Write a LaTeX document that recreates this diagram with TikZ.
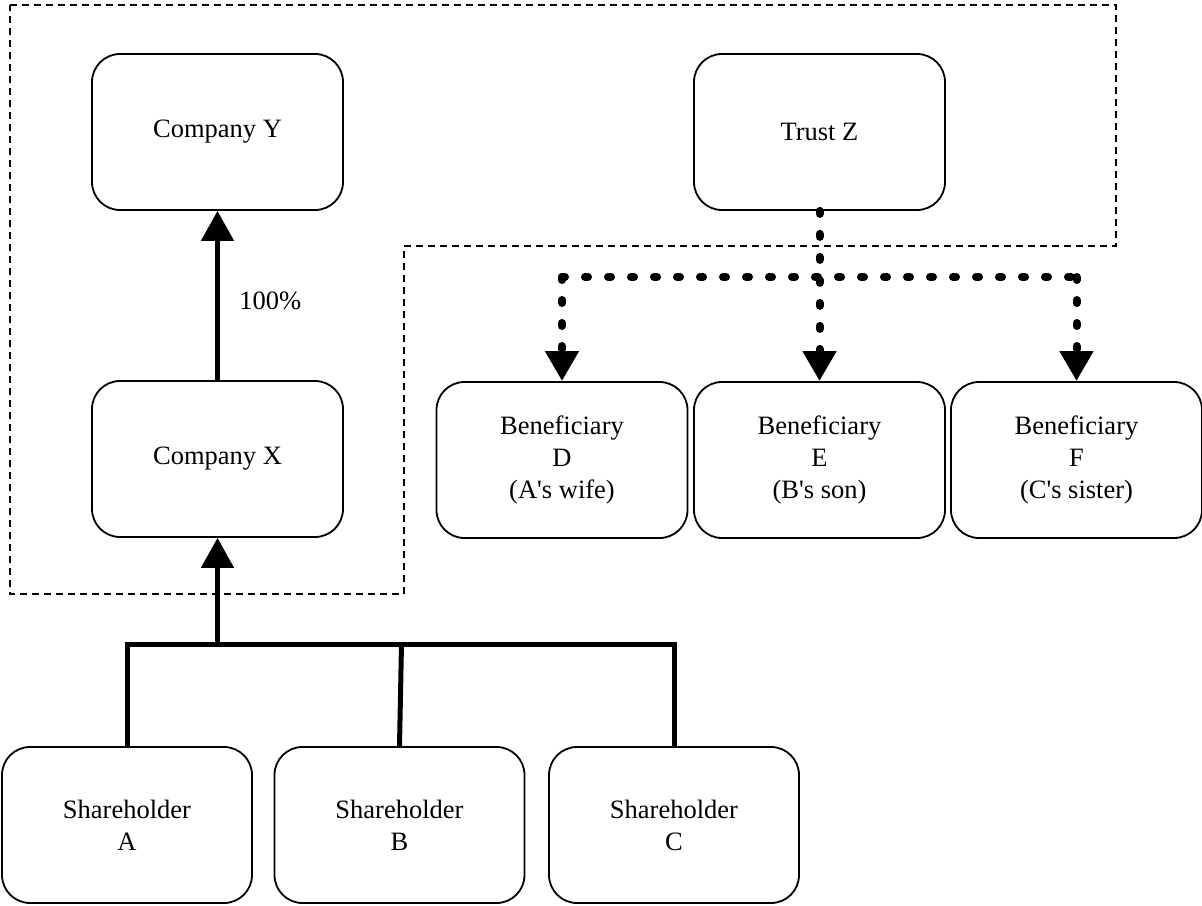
\documentclass[tikz,border=0pt]{standalone}
\usepackage{fontspec}
\setmainfont{Liberation Serif}
\usetikzlibrary{arrows.meta}
\begin{document}
\begin{tikzpicture}[x=1pt,y=-1pt,
  entity/.style={draw, line width=1.8pt, rounded corners=28pt, minimum width=251pt,
    minimum height=156pt, align=center, inner sep=0pt,
    font=\fontsize{26.5}{32}\selectfont},
  bigtip/.style={-{Triangle[width=32pt,length=30pt]}},
  owns/.style={line width=5pt},
  benefit/.style={line width=8pt, line cap=round, dash pattern=on 3pt off 20pt},
  group/.style={line width=1.4pt, dash pattern=on 7pt off 5pt}]
\useasboundingbox (0,0) rectangle (1202,905);

% group boundary
\draw[group] (10,5) -- (1116,5) -- (1116,246) -- (404,246) -- (404,594) -- (10,594) -- cycle;

% entities
\node[entity] (CY) at (217.5,132) {Company Y};
\node[entity] (TZ) at (819.5,132) {Trust Z};
\node[entity] (CX) at (217.5,459) {Company X};
\node[entity] (BD) at (562,460) {Beneficiary\\D\\(A\textquotesingle s wife)};
\node[entity] (BE) at (819.5,460) {Beneficiary\\E\\(B\textquotesingle s son)};
\node[entity] (BF) at (1076.5,460) {Beneficiary\\F\\(C\textquotesingle s sister)};
\node[entity, minimum width=250pt] (SA) at (127,825) {Shareholder\\A};
\node[entity, minimum width=250pt] (SB) at (399.5,825) {Shareholder\\B};
\node[entity, minimum width=250pt] (SC) at (674,825) {Shareholder\\C};

% ownership
\coordinate (sbus) at (217.5,644);
\draw[owns, bigtip] (CX.north) -- (CY.south)
  node[pos=0.47, right=16pt, font=\fontsize{26.5}{32}\selectfont] (pct) {100\%};
\draw[owns] (SA.north) |- (SC.north |- sbus) -- (SC.north);
\draw[owns] (SB.north) -- ([xshift=2pt]SB.north |- sbus);
\draw[owns, bigtip] (sbus) -- (CX.south);

% trust beneficiaries
\coordinate (tbus) at (819.5,277);
\draw[benefit, bigtip] (TZ.south) -- (BE.north);
\draw[benefit] (BD.north |- tbus) -- (BF.north |- tbus);
\draw[benefit, bigtip] (BD.north |- tbus) -- (BD.north);
\draw[benefit, bigtip] (BF.north |- tbus) -- (BF.north);
\end{tikzpicture}
\end{document}
